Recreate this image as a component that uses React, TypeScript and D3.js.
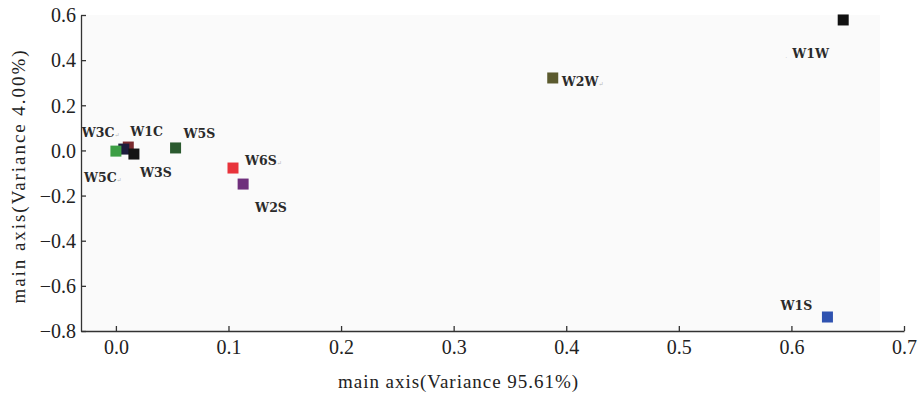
import React, { useEffect, useRef } from "react";
import * as d3 from "d3";

// sample names and their scores on the two main axes
const names = ["W1W", "W2W", "W1S", "W6S", "W2S", "W5S", "W1C", "W3C", "W5C", "W3S"];
const axis1 = [0.646, 0.388, 0.632, 0.104, 0.113, 0.053, 0.011, 0.007, 0.0, 0.016];
const axis2 = [0.578, 0.321, -0.738, -0.078, -0.149, 0.011, 0.015, 0.006, -0.003, -0.016];

const xTicks = [0, 0.1, 0.2, 0.3, 0.4, 0.5, 0.6, 0.7];
const yTicks = [-0.8, -0.6, -0.4, -0.2, 0, 0.2, 0.4, 0.6];

const xTitle = "main axis(Variance 95.61%)";
const yTitle = "main axis(Variance 4.00%)";

// marker colours, same order as names
const colors = ["#111111", "#5b5a2e", "#2f52b0", "#e8333b", "#6f2f7c", "#2b5a2f", "#7a2a2e", "#1c1c3c", "#3c9e44", "#141414"];
// label placement relative to the marker (px)
const labelOffsets: Record<string, [number, number]> = {
  W1W: [-51, 38],
  W2W: [9, 8],
  W1S: [-47, -7],
  W6S: [12, -3],
  W2S: [12, 28],
  W5S: [8, -10],
  W1C: [2, -11],
  W3C: [-42, -12],
  W5C: [-32, 31],
  W3S: [6, 23],
};
// the little grey return marks that were left next to some labels
const marked = ["W3C", "W2W", "W6S", "W5C"];

const width = 922;
const height = 394;
const margin = { left: 81, right: 18, top: 15, bottom: 63 };
const serif = "'Liberation Serif', 'Times New Roman', serif";

const ScatterChart = () => {
  const ref = useRef<SVGSVGElement>(null);

  useEffect(() => {
    const svg = d3.select(ref.current);
    svg.selectAll("*").remove();

    const x = d3.scaleLinear().domain([-0.031, 0.7]).range([margin.left, width - margin.right]);
    const y = d3.scaleLinear().domain([-0.8, 0.6]).range([height - margin.bottom, margin.top]);

    // faint grey plot background (stops short of the x axis end)
    svg
      .append("rect")
      .attr("x", margin.left + 1)
      .attr("y", margin.top)
      .attr("width", 880 - margin.left - 1)
      .attr("height", y(-0.8) - margin.top)
      .attr("fill", "#fafafa");

    const fmt = d3.format(".1f");

    const xAxis = d3.axisBottom(x).tickValues(xTicks).tickFormat(fmt).tickSizeInner(-5).tickSizeOuter(0).tickPadding(9);
    const yAxis = d3.axisLeft(y).tickValues(yTicks).tickFormat(fmt).tickSizeInner(-5).tickSizeOuter(0).tickPadding(5);

    const gx = svg.append("g").attr("transform", `translate(0, ${y(-0.8)})`).call(xAxis);
    const gy = svg.append("g").attr("transform", `translate(${margin.left}, 0)`).call(yAxis);

    [gx, gy].forEach((g) => {
      g.attr("font-family", serif).attr("font-size", 20);
      g.selectAll("path, line").attr("stroke", "#333").attr("stroke-width", 1.3);
      g.selectAll("text").attr("fill", "#222");
    });
    gy.selectAll("text").attr("dy", "0.34em");

    // axis titles
    svg
      .append("text")
      .attr("x", 458)
      .attr("y", 388)
      .attr("text-anchor", "middle")
      .attr("textLength", 240)
      .attr("fill", "#222")
      .attr("font-family", serif)
      .attr("font-size", 19)
      .text(xTitle);

    svg
      .append("text")
      .attr("transform", `translate(25, 177) rotate(-90)`)
      .attr("text-anchor", "middle")
      .attr("textLength", 253)
      .attr("fill", "#222")
      .attr("font-family", serif)
      .attr("font-size", 19)
      .text(yTitle);

    const pts = names.map((n, i) => ({ name: n, x: axis1[i], y: axis2[i], color: colors[i] }));
    const size = 11;

    svg
      .append("g")
      .selectAll("rect")
      .data(pts)
      .join("rect")
      .attr("x", (d) => x(d.x) - size / 2)
      .attr("y", (d) => y(d.y) - size / 2)
      .attr("width", size)
      .attr("height", size)
      .attr("fill", (d) => d.color);

    const labels = svg
      .append("g")
      .selectAll("text")
      .data(pts)
      .join("text")
      .attr("x", (d) => x(d.x) + labelOffsets[d.name][0])
      .attr("y", (d) => y(d.y) + labelOffsets[d.name][1])
      .attr("fill", "#2a2a2a")
      .attr("font-family", "'DejaVu Serif', serif")
      .attr("font-weight", "bold")
      .attr("font-size", 12.5);

    labels.append("tspan").text((d) => d.name);
    labels
      .filter((d) => marked.includes(d.name))
      .append("tspan")
      .attr("fill", "#b5b5b5")
      .attr("font-size", 6)
      .attr("font-weight", "normal")
      .text("↵");

    // stray mark in front of W1W
    const w1w = pts[0];
    svg
      .append("text")
      .attr("x", x(w1w.x) - 58)
      .attr("y", y(w1w.y) + 40)
      .attr("fill", "#b5b5b5")
      .attr("font-size", 6)
      .text("·");
  }, []);

  return <svg ref={ref} width={width} height={height} style={{ position: "absolute", left: 0, top: 0, background: "#fff" }} />;
};

export default function App() {
  return <ScatterChart />;
}
